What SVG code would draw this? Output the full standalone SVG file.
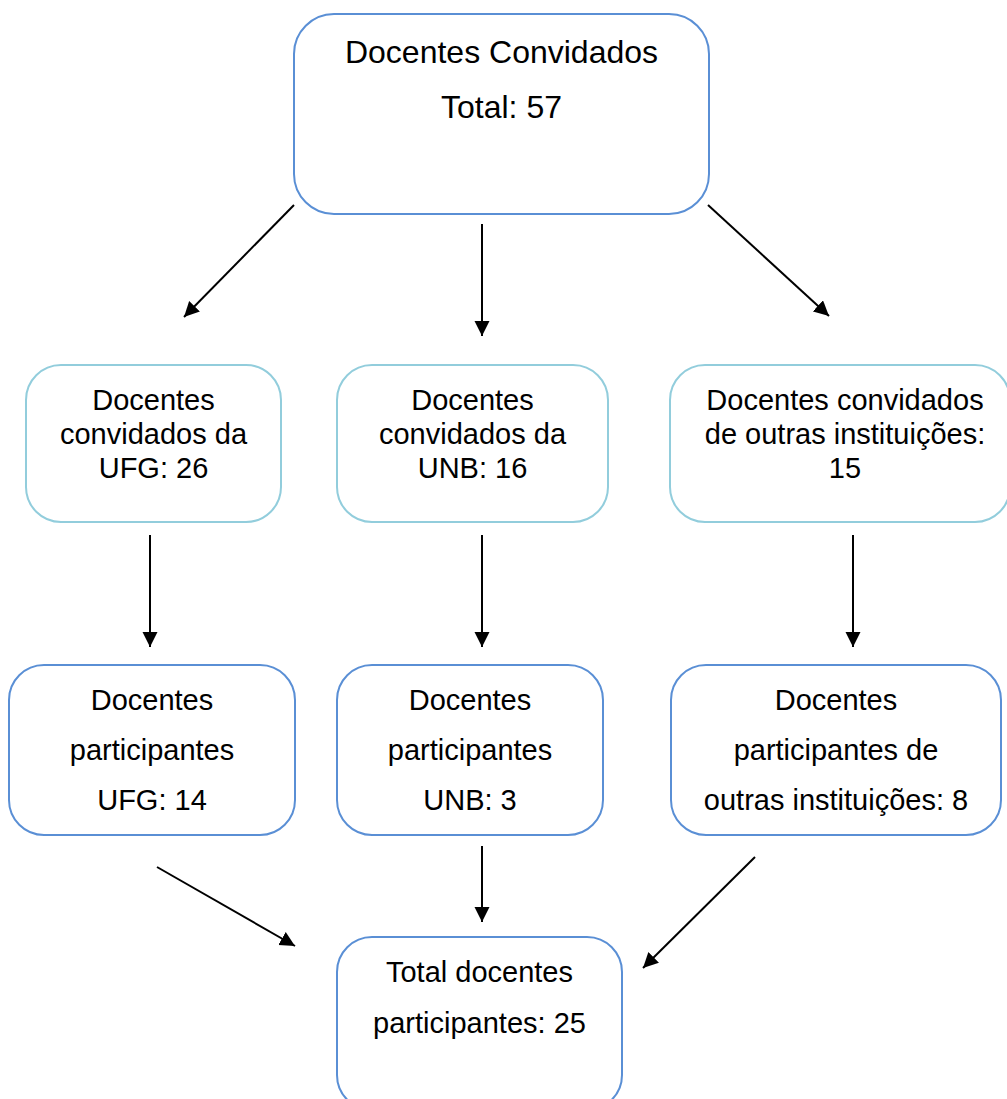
<svg xmlns="http://www.w3.org/2000/svg" width="1007" height="1099" viewBox="0 0 1007 1099">
<style>
  text { font-family: "Liberation Sans", Arial, sans-serif; fill: #000; text-anchor: middle; }
  .t32 { font-size: 32px; }
  .t29 { font-size: 29px; }
  .blue { fill: #fff; stroke: #5a8fd5; stroke-width: 2; }
  .aqua { fill: #fff; stroke: #92cddc; stroke-width: 2; }
  .conn { stroke: #000; stroke-width: 2; fill: none; marker-end: url(#arrow); }
</style>
<defs>
  <marker id="arrow" markerUnits="userSpaceOnUse" markerWidth="16" markerHeight="16" refX="15" refY="7.5" orient="auto">
    <path d="M0,0 L15,7.5 L0,15 z" fill="#000"/>
  </marker>
</defs>
<rect width="1007" height="1099" fill="#fff"/>

<g id="node-top">
  <rect class="blue" x="294" y="14" width="415" height="200" rx="40" ry="40"/>
  <text class="t32" x="501.5" y="63">Docentes Convidados</text>
  <text class="t32" x="501.5" y="118">Total: 57</text>
</g>

<g id="node-ufg-conv">
  <rect class="aqua" x="26" y="365" width="255" height="157" rx="35" ry="35"/>
  <text class="t29" x="153.5" y="410">Docentes</text>
  <text class="t29" x="153.5" y="444">convidados da</text>
  <text class="t29" x="153.5" y="478">UFG: 26</text>
</g>

<g id="node-unb-conv">
  <rect class="aqua" x="337" y="365" width="271" height="157" rx="35" ry="35"/>
  <text class="t29" x="472.5" y="410">Docentes</text>
  <text class="t29" x="472.5" y="444">convidados da</text>
  <text class="t29" x="472.5" y="478">UNB: 16</text>
</g>

<g id="node-outras-conv">
  <rect class="aqua" x="670" y="365" width="340" height="157" rx="35" ry="35"/>
  <text class="t29" x="845" y="410">Docentes convidados</text>
  <text class="t29" x="845" y="444">de outras instituições:</text>
  <text class="t29" x="845" y="478">15</text>
</g>

<g id="node-ufg-part">
  <rect class="blue" x="9" y="665" width="286" height="170" rx="35" ry="35"/>
  <text class="t29" x="152" y="710">Docentes</text>
  <text class="t29" x="152" y="760">participantes</text>
  <text class="t29" x="152" y="810">UFG: 14</text>
</g>

<g id="node-unb-part">
  <rect class="blue" x="337" y="665" width="266" height="170" rx="35" ry="35"/>
  <text class="t29" x="470" y="710">Docentes</text>
  <text class="t29" x="470" y="760">participantes</text>
  <text class="t29" x="470" y="810">UNB: 3</text>
</g>

<g id="node-outras-part">
  <rect class="blue" x="671" y="665" width="330" height="170" rx="35" ry="35"/>
  <text class="t29" x="836" y="710">Docentes</text>
  <text class="t29" x="836" y="760">participantes de</text>
  <text class="t29" x="836" y="810">outras instituições: 8</text>
</g>

<g id="node-total">
  <rect class="blue" x="337" y="937" width="285" height="173" rx="35" ry="35"/>
  <text class="t29" x="479.5" y="982">Total docentes</text>
  <text class="t29" x="479.5" y="1033">participantes: 25</text>
</g>

<g id="connectors">
  <line class="conn" x1="294" y1="205" x2="184" y2="317"/>
  <line class="conn" x1="482" y1="224" x2="482" y2="336"/>
  <line class="conn" x1="708" y1="205" x2="829" y2="316"/>
  <line class="conn" x1="150" y1="535" x2="150" y2="647"/>
  <line class="conn" x1="482" y1="535" x2="482" y2="647"/>
  <line class="conn" x1="853" y1="535" x2="853" y2="647"/>
  <line class="conn" x1="157" y1="867" x2="295" y2="946"/>
  <line class="conn" x1="482" y1="846" x2="482" y2="922"/>
  <line class="conn" x1="755" y1="857" x2="643" y2="968"/>
</g>
</svg>
